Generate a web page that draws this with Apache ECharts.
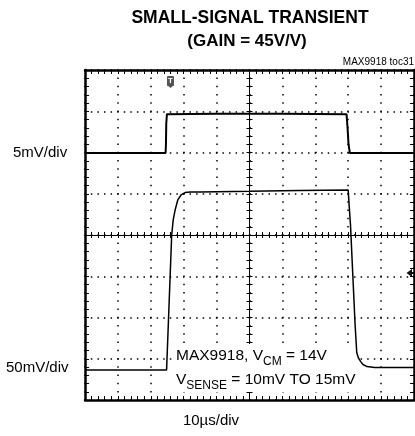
<!DOCTYPE html>
<html>
<head>
<meta charset="utf-8">
<script src="https://cdn.jsdelivr.net/npm/echarts@6/dist/echarts.min.js"></script>
<style>
html,body{margin:0;padding:0;background:#fff;}
#c{width:415px;height:436px;}
</style>
</head>
<body>
<div id="c"></div>
<script>
// ---- data (x in µs, y in screen divisions from centre) ----
const titleLines = ['SMALL-SIGNAL TRANSIENT', '(GAIN = 45V/V)'];
const figureId = 'MAX9918 toc31';
const topScaleLabel = '5mV/div';
const bottomScaleLabel = '50mV/div';
const timeScaleLabel = '10µs/div';

const inputTimeUs = [0, 24.5, 24.6, 24.7, 24.9, 40, 60, 79.5, 79.8, 80.1, 80.5, 100];
const inputDiv    = [1.99, 1.99, 2.2, 2.7, 2.93, 2.94, 2.94, 2.93, 2.6, 2.2, 1.99, 1.99];

const outputTimeUs = [0, 24.8, 26.35, 26.8, 27.4, 28.2, 29.2, 30.4, 32, 35, 50, 65, 80.0, 80.3, 80.7, 81.4, 82.1, 82.6, 83.1, 83.8, 84.5, 85.7, 88, 100];
const outputDiv    = [-3.27, -3.27, 0, 0.36, 0.61, 0.85, 0.97, 1.03, 1.04, 1.045, 1.06, 1.08, 1.09, 0.7, 0.24, -0.97, -2.18, -2.85, -2.98, -3.07, -3.14, -3.19, -3.21, -3.21];

const FONT = "'Liberation Sans', Arial, sans-serif";

const chart = echarts.init(document.getElementById('c'), null, {renderer: 'canvas'});

const GRID = {left: 85, top: 70, right: 1, bottom: 36};
const W = 415 - GRID.left - GRID.right;   // 329
const H = 436 - GRID.top - GRID.bottom;   // 330
const xMinor = W / 10 / 5;
const yMinor = H / 8 / 5;

function frameX(pos, split) {
  return {
    type: 'value', min: 0, max: 100, interval: 10, position: pos,
    axisLine: {show: true, onZero: false, lineStyle: {color: '#000', width: 2.5}},
    axisTick: {show: true, inside: true, length: 4, lineStyle: {color: '#000', width: 1}},
    minorTick: {show: true, splitNumber: 5, length: 4, lineStyle: {color: '#000', width: 1}},
    axisLabel: {show: false},
    splitLine: split ? {show: true, lineStyle: {color: '#000', width: 1.5, type: [1.5, yMinor - 1.5], dashOffset: 0.75}} : {show: false},
    minorSplitLine: {show: false}
  };
}
function frameY(pos, split) {
  return {
    type: 'value', min: -4, max: 4, interval: 1, position: pos,
    axisLine: {show: true, onZero: false, lineStyle: {color: '#000', width: 2.5}},
    axisTick: {show: true, inside: true, length: 4, lineStyle: {color: '#000', width: 1}},
    minorTick: {show: true, splitNumber: 5, length: 4, lineStyle: {color: '#000', width: 1}},
    axisLabel: {show: false},
    splitLine: split ? {show: true, lineStyle: {color: '#000', width: 1.5, type: [1.5, xMinor - 1.5], dashOffset: 0.75}} : {show: false},
    minorSplitLine: {show: false}
  };
}
function centreX(inside) {
  return {
    type: 'value', min: 0, max: 100, interval: 10, position: 'bottom', offset: -H / 2,
    axisLine: {show: true, onZero: false, lineStyle: {color: '#000', width: 1}},
    axisTick: {show: true, inside: inside, length: 3, lineStyle: {color: '#000', width: 1}},
    minorTick: {show: true, splitNumber: 5, length: 3, lineStyle: {color: '#000', width: 1}},
    axisLabel: {show: false}, splitLine: {show: false}
  };
}
function centreY(inside) {
  return {
    type: 'value', min: -4, max: 4, interval: 1, position: 'left', offset: -W / 2,
    axisLine: {show: true, onZero: false, lineStyle: {color: '#000', width: 1}},
    axisTick: {show: true, inside: inside, length: 3, lineStyle: {color: '#000', width: 1}},
    minorTick: {show: true, splitNumber: 5, length: 3, lineStyle: {color: '#000', width: 1}},
    axisLabel: {show: false}, splitLine: {show: false}
  };
}

const option = {
  animation: false,
  backgroundColor: '#fff',
  grid: {left: GRID.left, top: GRID.top, right: GRID.right, bottom: GRID.bottom, containLabel: false},
  xAxis: [frameX('bottom', true), frameX('top', false), centreX(true), centreX(false)],
  yAxis: [frameY('left', true), frameY('right', false), centreY(true), centreY(false)],
  series: [
    {
      name: 'input', type: 'line', xAxisIndex: 0, yAxisIndex: 0,
      data: inputTimeUs.map((t, i) => [t, inputDiv[i]]),
      showSymbol: false, symbol: 'none', z: 5,
      lineStyle: {color: '#000', width: 2}
    },
    {
      name: 'output', type: 'line', xAxisIndex: 0, yAxisIndex: 0,
      data: outputTimeUs.map((t, i) => [t, outputDiv[i]]),
      showSymbol: false, symbol: 'none', smooth: false, z: 5,
      lineStyle: {color: '#000', width: 1.5}
    }
  ],
  graphic: [
    {type: 'text', x: 250, y: 18, z: 10, style: {text: titleLines[0], font: 'bold 17.5px ' + FONT, fill: '#000', align: 'center', verticalAlign: 'middle'}},
    {type: 'text', x: 247, y: 41, z: 10, style: {text: titleLines[1], font: 'bold 17px ' + FONT, fill: '#000', align: 'center', verticalAlign: 'middle'}},
    {type: 'text', x: 414, y: 62, z: 10, style: {text: figureId, font: '10px ' + FONT, fill: '#000', align: 'right', verticalAlign: 'middle'}},
    {type: 'text', x: 13, y: 153, z: 10, style: {text: topScaleLabel, font: '15px ' + FONT, fill: '#000', align: 'left', verticalAlign: 'middle'}},
    {type: 'text', x: 6, y: 368, z: 10, style: {text: bottomScaleLabel, font: '15px ' + FONT, fill: '#000', align: 'left', verticalAlign: 'middle'}},
    {type: 'text', x: 211, y: 421, z: 10, style: {text: timeScaleLabel, font: '15px ' + FONT, fill: '#000', align: 'center', verticalAlign: 'middle'}},
    {
      type: 'text', x: 174, y: 344, z: 1,
      style: {
        text: '{a|MAX9918, V}{s|CM}{a| = 14V}\n{a|V}{s|SENSE}{a| = 10mV TO 15mV}',
        backgroundColor: '#fff', padding: [0, 2, 0, 2],
        rich: {
          a: {font: '15.5px ' + FONT, fill: '#000', lineHeight: 24, verticalAlign: 'middle'},
          s: {font: '12px ' + FONT, fill: '#000', lineHeight: 19, verticalAlign: 'bottom'}
        }
      }
    },
    // trigger marker
    {type: 'group', x: 167, y: 76, z: 10, children: [
      {type: 'rect', shape: {x: 0, y: 0, width: 7, height: 10, r: 1}, style: {fill: '#555'}},
      {type: 'polygon', shape: {points: [[0, 9], [7, 9], [3.5, 12]]}, style: {fill: '#555'}},
      {type: 'text', x: 3.5, y: 5, style: {text: 'T', font: 'bold 8px ' + FONT, fill: '#fff', align: 'center', verticalAlign: 'middle'}}
    ]},
    // level arrow on the right edge
    {type: 'group', x: 406.5, y: 273, z: 10, children: [
      {type: 'polygon', shape: {points: [[0, 0], [5.5, -4], [5.5, 4]]}, style: {fill: '#111'}},
      {type: 'line', shape: {x1: 5, y1: 0, x2: 8, y2: 0}, style: {stroke: '#111', lineWidth: 2}}
    ]}
  ]
};
chart.setOption(option);
</script>
</body>
</html>
